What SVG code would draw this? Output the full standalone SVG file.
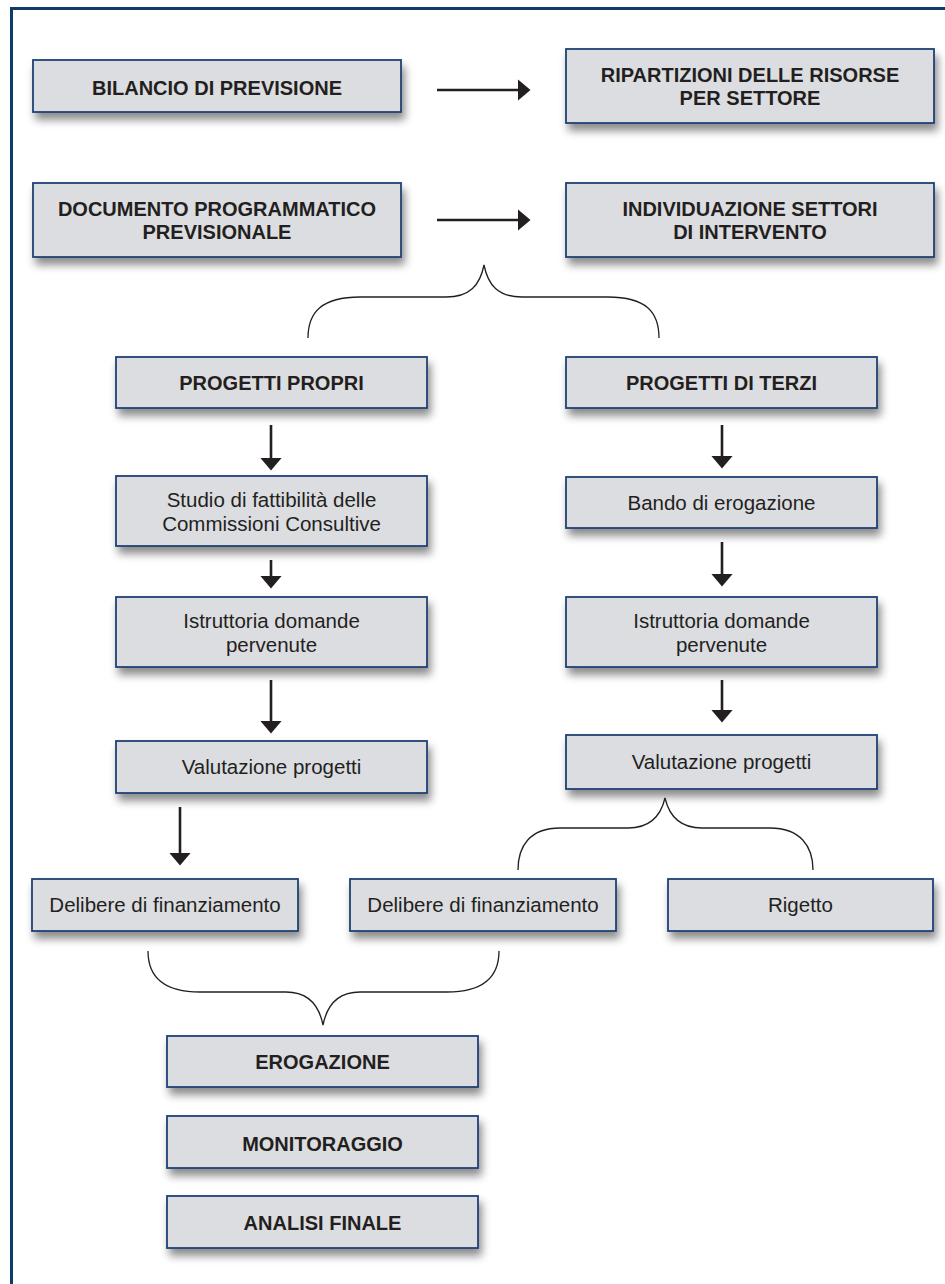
<svg xmlns="http://www.w3.org/2000/svg" width="945" height="1284" viewBox="0 0 945 1284">
<defs>
<filter id="sh" x="-10%" y="-30%" width="130%" height="180%">
<feDropShadow dx="3" dy="7" stdDeviation="4" flood-color="#000" flood-opacity="0.45"/>
</filter>
<marker id="ah" viewBox="0 0 13 22" refX="0.5" refY="11" markerWidth="13" markerHeight="22" markerUnits="userSpaceOnUse" orient="auto">
<path d="M0,0 L13,11 L0,22 z" fill="#231f20"/>
</marker>
</defs>
<style>
.box{fill:#dcdde0;stroke:#1d4275;stroke-width:1.8;filter:url(#sh)}
.b{font-family:"Liberation Sans",Arial,Helvetica,sans-serif;font-weight:bold;font-size:20px;fill:#231f20;text-anchor:middle}
.r{font-family:"Liberation Sans",Arial,Helvetica,sans-serif;font-size:20.5px;fill:#231f20;text-anchor:middle}
.ar{stroke:#231f20;stroke-width:2.6;fill:none;marker-end:url(#ah)}
.br{stroke:#231f20;stroke-width:1.3;fill:none}
</style>
<rect width="945" height="1284" fill="#fff"/>
<path d="M945,8.5 H11.5 V1284" fill="none" stroke="#0d3b6b" stroke-width="3"/>

<g id="n-bilancio"><rect class="box" x="33" y="60" width="368" height="52"/><text class="b" x="217" y="95">BILANCIO DI PREVISIONE</text></g>
<g id="n-ripartizioni"><rect class="box" x="566" y="49" width="368" height="74"/><text class="b" x="750" y="82">RIPARTIZIONI DELLE RISORSE</text><text class="b" x="750" y="105">PER SETTORE</text></g>
<g id="n-documento"><rect class="box" x="33" y="183" width="368" height="74"/><text class="b" x="217" y="216">DOCUMENTO PROGRAMMATICO</text><text class="b" x="217" y="239">PREVISIONALE</text></g>
<g id="n-individuazione"><rect class="box" x="566" y="183" width="368" height="74"/><text class="b" x="750" y="216">INDIVIDUAZIONE SETTORI</text><text class="b" x="750" y="239">DI INTERVENTO</text></g>

<g id="n-propri"><rect class="box" x="116" y="357" width="311" height="51"/><text class="b" x="271.5" y="390">PROGETTI PROPRI</text></g>
<g id="n-terzi"><rect class="box" x="566" y="357" width="311" height="51"/><text class="b" x="721.5" y="390">PROGETTI DI TERZI</text></g>
<g id="n-studio"><rect class="box" x="116" y="476" width="311" height="70"/><text class="r" x="271.5" y="507">Studio di fattibilità delle</text><text class="r" x="271.5" y="531">Commissioni Consultive</text></g>
<g id="n-bando"><rect class="box" x="566" y="477" width="311" height="51"/><text class="r" x="721.5" y="510">Bando di erogazione</text></g>
<g id="n-istr-l"><rect class="box" x="116" y="597" width="311" height="70"/><text class="r" x="271.5" y="628">Istruttoria domande</text><text class="r" x="271.5" y="652">pervenute</text></g>
<g id="n-istr-r"><rect class="box" x="566" y="597" width="311" height="70"/><text class="r" x="721.5" y="628">Istruttoria domande</text><text class="r" x="721.5" y="652">pervenute</text></g>
<g id="n-val-l"><rect class="box" x="116" y="741" width="311" height="52"/><text class="r" x="271.5" y="774">Valutazione progetti</text></g>
<g id="n-val-r"><rect class="box" x="566" y="735" width="311" height="54"/><text class="r" x="721.5" y="769">Valutazione progetti</text></g>
<g id="n-del-l"><rect class="box" x="32" y="879" width="266" height="52"/><text class="r" x="165" y="912">Delibere di finanziamento</text></g>
<g id="n-del-m"><rect class="box" x="350" y="879" width="266" height="52"/><text class="r" x="483" y="912">Delibere di finanziamento</text></g>
<g id="n-rigetto"><rect class="box" x="668" y="879" width="265" height="52"/><text class="r" x="800.5" y="912">Rigetto</text></g>
<g id="n-erogazione"><rect class="box" x="167" y="1036" width="311" height="51"/><text class="b" x="322.5" y="1069">EROGAZIONE</text></g>
<g id="n-monitoraggio"><rect class="box" x="167" y="1116" width="311" height="52"/><text class="b" x="322.5" y="1151">MONITORAGGIO</text></g>
<g id="n-analisi"><rect class="box" x="167" y="1196" width="311" height="52"/><text class="b" x="322.5" y="1230">ANALISI FINALE</text></g>

<g id="connectors">
<path class="ar" d="M437,90 H518"/>
<path class="ar" d="M437,220 H518"/>
<path class="ar" d="M271,425 V458"/>
<path class="ar" d="M271,560 V576"/>
<path class="ar" d="M271,680 V721"/>
<path class="ar" d="M180,807 V853"/>
<path class="ar" d="M722,425 V456"/>
<path class="ar" d="M722,542 V574"/>
<path class="ar" d="M722,680 V710"/>
<path class="br" d="M308,338 C308,312 322,297 360,297 L446,297 C470,297 480,285 484,265 C488,285 498,297 522,297 L608,297 C646,297 659,312 659,338"/>
<path class="br" d="M518,870 C518,846 530,828 560,828 L628,828 C650,828 661,815 665,798 C669,815 680,828 702,828 L770,828 C800,828 813,846 813,870"/>
<path class="br" d="M148,951 C148,975 162,992 200,992 L286,992 C308,992 319,1005 323,1025 C327,1005 338,992 360,992 L447,992 C486,992 499,975 499,951"/>
</g>
</svg>
